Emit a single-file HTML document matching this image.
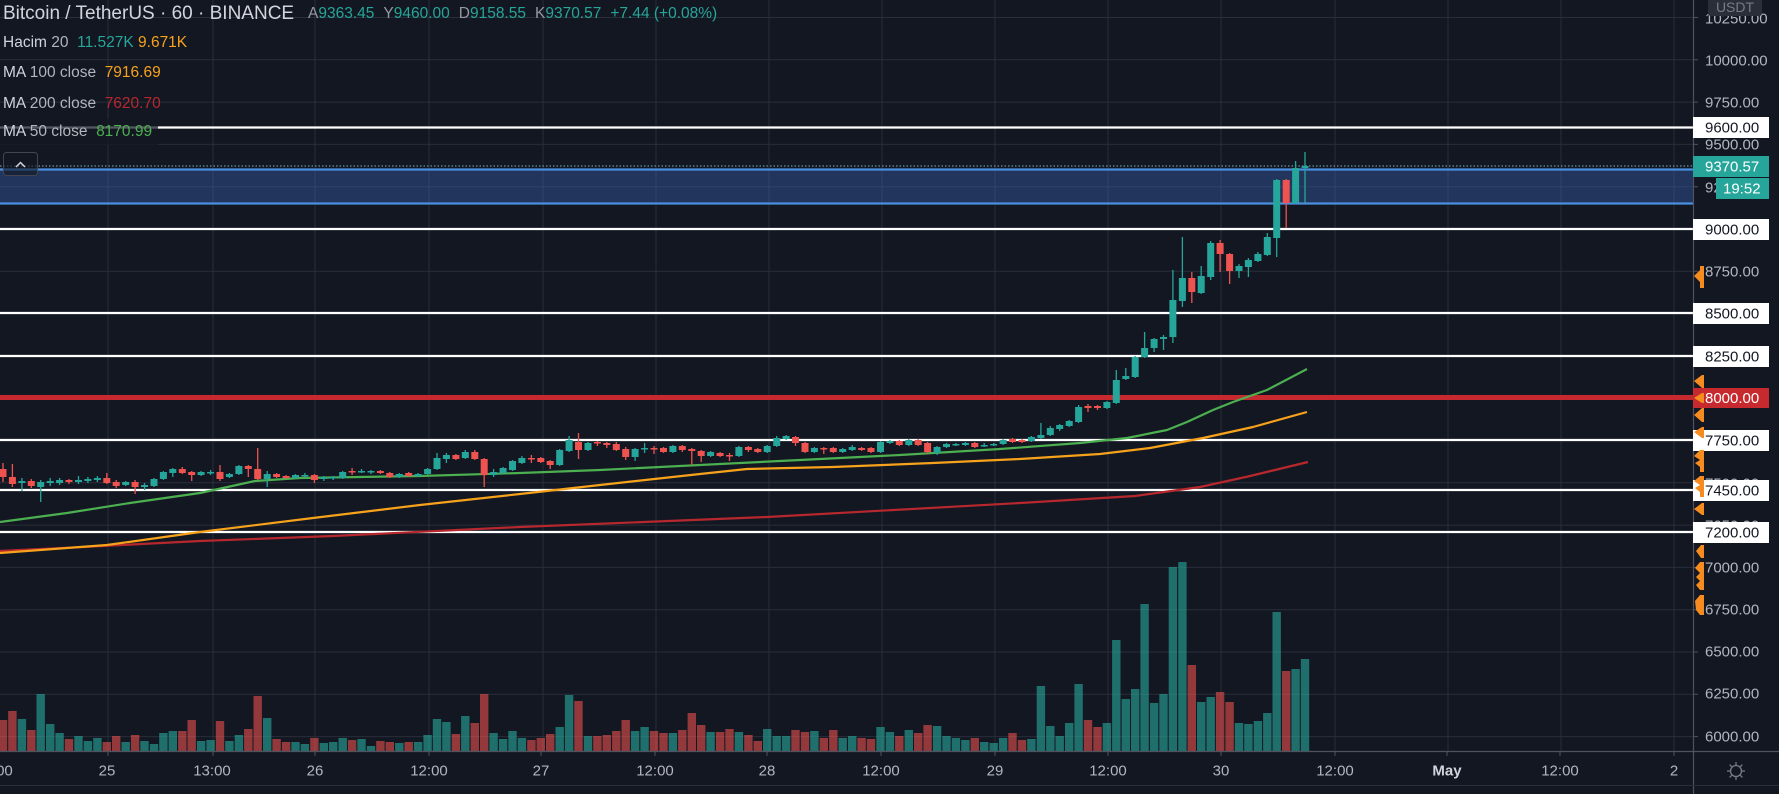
<!DOCTYPE html>
<html><head><meta charset="utf-8"><style>
html,body{margin:0;padding:0;background:#131722;}
#w{position:relative;width:1779px;height:794px;overflow:hidden;background:#131722;font-family:"Liberation Sans",sans-serif;}
svg{position:absolute;left:0;top:0;}
.row{position:absolute;left:0;height:26px;line-height:26px;white-space:nowrap;font-size:15.5px;color:#b2b5be;background:rgba(19,23,34,0.72);padding:0 6px 0 3px;}
.ttl{position:absolute;left:3px;top:2px;font-size:19px;color:#d1d4dc;line-height:24px;white-space:nowrap;}
.ohlc{position:absolute;left:308px;top:4px;font-size:15.5px;line-height:20px;color:#26a69a;white-space:nowrap;}
.ohlc span{margin-right:9px;}
.ohlc b{font-weight:normal;color:#9598a1;}
</style></head><body><div id="w">
<svg width="1779" height="794" viewBox="0 0 1779 794" xmlns="http://www.w3.org/2000/svg">
<rect width="1779" height="794" fill="#131722"/>
<g stroke="#2a2e39" stroke-width="1">
<path d="M0 17.5H1693M0 59.8H1693M0 102.1H1693M0 144.4H1693M0 186.7H1693M0 229H1693M0 271.3H1693M0 313.6H1693M0 355.9H1693M0 398.2H1693M0 440.5H1693M0 482.8H1693M0 525.1H1693M0 567.4H1693M0 609.7H1693M0 652H1693M0 694.3H1693M0 736.6H1693"/>
<path d="M108 0V751M213 0V751M315 0V751M429 0V751M543 0V751M656 0V751M769 0V751M882 0V751M995 0V751M1108 0V751M1221 0V751M1335 0V751M1448 0V751M1561 0V751M1674 0V751"/>
</g>
<path fill="#26a69a" fill-opacity="0.62" d="M17.7 719h8.4V751h-8.4zM36.5 694h8.4V751h-8.4zM46 724h8.4V751h-8.4zM55.4 733h8.4V751h-8.4zM74.3 736h8.4V751h-8.4zM83.7 741h8.4V751h-8.4zM93.2 738h8.4V751h-8.4zM121.5 742h8.4V751h-8.4zM140.3 741h8.4V751h-8.4zM149.8 744h8.4V751h-8.4zM159.2 733h8.4V751h-8.4zM168.6 731h8.4V751h-8.4zM196.9 741h8.4V751h-8.4zM206.4 740h8.4V751h-8.4zM225.2 741h8.4V751h-8.4zM234.7 735h8.4V751h-8.4zM263 718h8.4V751h-8.4zM291.3 742h8.4V751h-8.4zM300.7 744h8.4V751h-8.4zM319.6 743h8.4V751h-8.4zM329 742h8.4V751h-8.4zM338.5 738h8.4V751h-8.4zM357.3 739h8.4V751h-8.4zM366.8 746h8.4V751h-8.4zM395.1 743h8.4V751h-8.4zM413.9 742h8.4V751h-8.4zM423.4 735h8.4V751h-8.4zM432.8 719h8.4V751h-8.4zM442.2 722h8.4V751h-8.4zM461.1 716h8.4V751h-8.4zM489.4 733h8.4V751h-8.4zM498.9 739h8.4V751h-8.4zM508.3 731h8.4V751h-8.4zM517.7 738h8.4V751h-8.4zM555.5 727h8.4V751h-8.4zM564.9 695h8.4V751h-8.4zM583.8 736h8.4V751h-8.4zM630.9 731h8.4V751h-8.4zM640.4 727h8.4V751h-8.4zM668.7 733h8.4V751h-8.4zM706.4 732h8.4V751h-8.4zM734.7 732h8.4V751h-8.4zM763 729h8.4V751h-8.4zM772.5 736h8.4V751h-8.4zM781.9 736h8.4V751h-8.4zM810.2 731h8.4V751h-8.4zM838.5 738h8.4V751h-8.4zM848 736h8.4V751h-8.4zM876.3 727h8.4V751h-8.4zM885.7 732h8.4V751h-8.4zM904.6 730h8.4V751h-8.4zM932.9 726h8.4V751h-8.4zM942.3 736h8.4V751h-8.4zM951.7 738h8.4V751h-8.4zM961.2 740h8.4V751h-8.4zM980 742h8.4V751h-8.4zM989.5 743h8.4V751h-8.4zM998.9 738h8.4V751h-8.4zM1027.2 739h8.4V751h-8.4zM1036.7 686h8.4V751h-8.4zM1046.1 726h8.4V751h-8.4zM1055.5 736h8.4V751h-8.4zM1065 723h8.4V751h-8.4zM1074.4 684h8.4V751h-8.4zM1102.7 723h8.4V751h-8.4zM1112.1 640h8.4V751h-8.4zM1121.6 699h8.4V751h-8.4zM1131 689h8.4V751h-8.4zM1140.4 604h8.4V751h-8.4zM1149.9 703h8.4V751h-8.4zM1159.3 694h8.4V751h-8.4zM1168.7 567h8.4V751h-8.4zM1178.2 562h8.4V751h-8.4zM1197 702h8.4V751h-8.4zM1206.5 697h8.4V751h-8.4zM1234.8 723h8.4V751h-8.4zM1244.2 724h8.4V751h-8.4zM1253.7 721h8.4V751h-8.4zM1263.1 713h8.4V751h-8.4zM1272.5 612h8.4V751h-8.4zM1291.4 669h8.4V751h-8.4zM1300.8 659h8.4V751h-8.4z"/>
<path fill="#ef5350" fill-opacity="0.58" d="M-1.2 720h8.4V751h-8.4zM8.2 711h8.4V751h-8.4zM27.1 730h8.4V751h-8.4zM64.8 739h8.4V751h-8.4zM102.6 742h8.4V751h-8.4zM112 736h8.4V751h-8.4zM130.9 735h8.4V751h-8.4zM178.1 731h8.4V751h-8.4zM187.5 720h8.4V751h-8.4zM215.8 721h8.4V751h-8.4zM244.1 729h8.4V751h-8.4zM253.5 696h8.4V751h-8.4zM272.4 739h8.4V751h-8.4zM281.9 742h8.4V751h-8.4zM310.2 738h8.4V751h-8.4zM347.9 740h8.4V751h-8.4zM376.2 741h8.4V751h-8.4zM385.6 742h8.4V751h-8.4zM404.5 742h8.4V751h-8.4zM451.7 734h8.4V751h-8.4zM470.6 723h8.4V751h-8.4zM480 694h8.4V751h-8.4zM527.2 740h8.4V751h-8.4zM536.6 738h8.4V751h-8.4zM546 734h8.4V751h-8.4zM574.3 701h8.4V751h-8.4zM593.2 736h8.4V751h-8.4zM602.6 735h8.4V751h-8.4zM612.1 731h8.4V751h-8.4zM621.5 720h8.4V751h-8.4zM649.8 731h8.4V751h-8.4zM659.3 733h8.4V751h-8.4zM678.1 730h8.4V751h-8.4zM687.6 713h8.4V751h-8.4zM697 725h8.4V751h-8.4zM715.9 732h8.4V751h-8.4zM725.3 729h8.4V751h-8.4zM744.2 735h8.4V751h-8.4zM753.6 741h8.4V751h-8.4zM791.3 730h8.4V751h-8.4zM800.8 732h8.4V751h-8.4zM819.6 738h8.4V751h-8.4zM829.1 730h8.4V751h-8.4zM857.4 738h8.4V751h-8.4zM866.8 739h8.4V751h-8.4zM895.1 736h8.4V751h-8.4zM914 733h8.4V751h-8.4zM923.4 725h8.4V751h-8.4zM970.6 738h8.4V751h-8.4zM1008.3 733h8.4V751h-8.4zM1017.8 740h8.4V751h-8.4zM1083.8 720h8.4V751h-8.4zM1093.3 727h8.4V751h-8.4zM1187.6 665h8.4V751h-8.4zM1215.9 692h8.4V751h-8.4zM1225.4 702h8.4V751h-8.4zM1282 671h8.4V751h-8.4z"/>
<rect x="0" y="169" width="1693" height="35" fill="#3460b0" fill-opacity="0.42"/>
<path d="M0 169.5H1693M0 203.5H1693" stroke="#4a8fe0" stroke-width="2.2"/>
<path d="M0 166H1693" stroke="#7fb0c8" stroke-width="1" stroke-dasharray="1.5,2"/>
<path d="M0 127.5H1693M0 229H1693M0 313H1693M0 356H1693M0 440H1693M0 490H1693M0 532H1693" stroke="#ffffff" stroke-width="2.2"/>
<path d="M0 397.5H1693" stroke="#c62a2f" stroke-width="5"/>
<g fill="none" stroke-width="2.2" stroke-linejoin="round">
<path stroke="#b7282e" d="M0 551L83 547L200 541L333 536L520 527L767 517L1020 503L1135 496L1200 487L1248 476.5L1308 462"/>
<path stroke="#f7a21b" d="M0 553L107 545L200 532L313 518L420 505L520 494L600 485L700 474L747 469L833 467L933 463L1020 459L1100 454L1150 448L1203 438L1253 427L1307 412"/>
<path stroke="#4caf50" d="M0 522L67 513L130 503L200 493L255 481L300 478L420 476L520 473L600 470L700 465L800 460L900 455L1000 449L1080 443L1127 438L1167 430L1187 422L1213 410L1233 402L1267 390L1307 369"/>
</g>
<path stroke="#26a69a" stroke-width="1.3" fill="none" d="M21.9 478V491M40.7 480V502M50.2 478V486M59.6 478V485M78.5 476V484M87.9 477V483M97.4 476V482M125.7 481V486M144.5 483V490M154 478V487M163.4 471V480M172.8 468V477M201.1 471V476M210.6 470V475M229.4 473V478M238.9 465V475M267.2 471V487M295.5 474V479M304.9 473V478M323.8 476V481M333.2 476V480M342.7 471V479M361.5 469V473M371 470V474M399.3 473V478M418.1 473V477M427.6 468V475M437 453V470M446.4 453V463M465.3 450V459M493.6 469V477M503.1 467V474M512.5 460V471M521.9 456V464M559.7 449V466M569.1 436V452M588 442V451M635.1 448V461M644.6 443V453M672.9 445V453M710.6 451V457M738.9 446V457M767.2 445V453M776.7 436V447M786.1 435V440M814.4 447V453M842.7 448V453M852.2 445V451M880.5 441V453M889.9 440V444M908.8 439V446M937.1 446V455M946.5 443V448M955.9 443V446M965.4 442V446M984.2 443V447M993.7 443V446M1003.1 439V445M1031.4 436V442M1040.9 423V439M1050.3 426V436M1059.7 424V431M1069.2 420V427M1078.6 405V423M1106.9 401V409M1116.3 370V404M1125.8 368V380M1135.2 356V378M1144.6 332V358M1154.1 338V352M1163.5 335V350M1172.9 270V343M1182.4 237V307M1201.2 266V294M1210.7 241V280M1239 264V278M1248.4 258V277M1257.9 252V262M1267.3 233V256M1276.7 179V257M1295.6 161V204M1305 152V203"/>
<path stroke="#ef5350" stroke-width="1.3" fill="none" d="M3 463V482M12.4 464V487M31.3 479V488M69 479V484M106.8 473V484M116.2 480V488M135.1 480V494M182.3 467V474M191.7 471V481M220 465V481M248.3 465V477M257.7 448V480M276.6 473V478M286.1 475V479M314.4 474V483M352.1 468V475M380.4 470V474M389.8 472V478M408.7 472V477M455.9 454V460M474.8 450V460M484.2 458V487M531.4 455V463M540.8 457V463M550.2 460V469M578.5 433V459M597.4 441V446M606.8 442V448M616.3 442V451M625.7 447V460M654 446V454M663.5 447V453M682.3 445V452M691.8 448V465M701.2 450V462M720.1 452V457M729.5 453V461M748.4 446V452M757.8 448V453M795.5 436V446M805 442V453M823.8 447V454M833.3 447V453M861.6 447V451M871 447V453M899.3 440V446M918.2 439V446M927.6 442V454M974.8 442V448M1012.5 438V443M1022 439V443M1088 404V412M1097.5 405V410M1191.8 272V303M1220.1 240V272M1229.6 253V284M1286.2 179V228"/>
<path fill="#26a69a" d="M18.4 481h7v2h-7zM37.2 482h7v5h-7zM46.7 481h7v2h-7zM56.1 480h7v3h-7zM75 480h7v2h-7zM84.4 479h7v2h-7zM93.9 478h7v2h-7zM122.2 482h7v3h-7zM141 485h7v2h-7zM150.5 479h7v7h-7zM159.9 472h7v7h-7zM169.3 469h7v4h-7zM197.6 472h7v3h-7zM207.1 472h7v1.5h-7zM225.9 474h7v3h-7zM235.4 466h7v8h-7zM263.7 474h7v5h-7zM292 475h7v3h-7zM301.4 475h7v1.5h-7zM320.3 477h7v2h-7zM329.7 477h7v1.5h-7zM339.2 472h7v6h-7zM358 471h7v1.5h-7zM367.5 471h7v1.5h-7zM395.8 474h7v3h-7zM414.6 474h7v2h-7zM424.1 469h7v5h-7zM433.5 458h7v11h-7zM442.9 455h7v4h-7zM461.8 452h7v6h-7zM490.1 472h7v3h-7zM499.6 468h7v5h-7zM509 461h7v9h-7zM518.4 458h7v5h-7zM556.2 450h7v15h-7zM565.6 440h7v11h-7zM584.5 443h7v7h-7zM631.6 449h7v8h-7zM641.1 448h7v1.5h-7zM669.4 446h7v6h-7zM707.1 452h7v4h-7zM735.4 447h7v9h-7zM763.7 446h7v6h-7zM773.2 438h7v8h-7zM782.6 436h7v3h-7zM810.9 448h7v4h-7zM839.2 449h7v3h-7zM848.7 447h7v3h-7zM877 442h7v10h-7zM886.4 441h7v2h-7zM905.3 440h7v5h-7zM933.6 447h7v6h-7zM943 444h7v3h-7zM952.4 444h7v1.5h-7zM961.9 443h7v2h-7zM980.7 445h7v1.5h-7zM990.2 444h7v1.5h-7zM999.6 440h7v4h-7zM1027.9 437h7v4h-7zM1037.4 435h7v3h-7zM1046.8 428h7v7h-7zM1056.2 425h7v4h-7zM1065.7 421h7v5h-7zM1075.1 407h7v15h-7zM1103.4 402h7v6h-7zM1112.8 380h7v23h-7zM1122.3 376h7v3h-7zM1131.7 357h7v20h-7zM1141.1 348h7v9h-7zM1150.6 339h7v9h-7zM1160 337h7v2h-7zM1169.4 300h7v37h-7zM1178.9 278h7v23h-7zM1197.7 276h7v17h-7zM1207.2 243h7v34h-7zM1235.5 266h7v5h-7zM1244.9 260h7v7h-7zM1254.4 254h7v7h-7zM1263.8 237h7v18h-7zM1273.2 180h7v58h-7zM1292.1 168h7v35h-7zM1301.5 166h7v2h-7z"/>
<path fill="#ef5350" d="M-0.5 469h7v8h-7zM8.9 477h7v7h-7zM27.8 481h7v5h-7zM65.5 480h7v2h-7zM103.3 478h7v5h-7zM112.7 482h7v4h-7zM131.6 482h7v5h-7zM178.8 469h7v4h-7zM188.2 472h7v3h-7zM216.5 472h7v7h-7zM244.8 466h7v3h-7zM254.2 469h7v10h-7zM273.1 474h7v3h-7zM282.6 476h7v2h-7zM310.9 475h7v5h-7zM348.6 471h7v1.5h-7zM376.9 471h7v2h-7zM386.3 473h7v4h-7zM405.2 473h7v3h-7zM452.4 455h7v4h-7zM471.3 452h7v7h-7zM480.7 459h7v16h-7zM527.9 458h7v1.5h-7zM537.3 458h7v4h-7zM546.7 461h7v4h-7zM575 442h7v8h-7zM593.9 442h7v1.5h-7zM603.3 443h7v2h-7zM612.8 444h7v6h-7zM622.2 449h7v8h-7zM650.5 448h7v1.5h-7zM660 448h7v4h-7zM678.8 446h7v4h-7zM688.3 449h7v2h-7zM697.7 451h7v5h-7zM716.6 453h7v3h-7zM726 455h7v1.5h-7zM744.9 447h7v3h-7zM754.3 449h7v3h-7zM792 437h7v6h-7zM801.5 443h7v9h-7zM820.3 448h7v1.5h-7zM829.8 448h7v4h-7zM858.1 448h7v2h-7zM867.5 448h7v4h-7zM895.8 441h7v4h-7zM914.7 440h7v5h-7zM924.1 443h7v9h-7zM971.3 443h7v4h-7zM1009 439h7v3h-7zM1018.5 440h7v2h-7zM1084.5 406h7v2h-7zM1094 406h7v2h-7zM1188.3 278h7v14h-7zM1216.6 243h7v11h-7zM1226.1 254h7v17h-7zM1282.7 180h7v23h-7z"/>
<rect x="1693" y="0" width="86" height="794" fill="#131722"/>
<rect x="0" y="751" width="1779" height="43" fill="#131722"/>
<path d="M1693.5 0V794" stroke="#50535e" stroke-width="1.2"/>
<path d="M0 751.5H1779" stroke="#50535e" stroke-width="1.2"/>
<path d="M0 785.5H1779" stroke="#2a2e39" stroke-width="1"/>
<g stroke="#50535e" stroke-width="1">
<path d="M1693 17.5h5M1693 59.8h5M1693 102.1h5M1693 144.4h5M1693 186.7h5M1693 271.3h5M1693 567.4h5M1693 609.7h5M1693 652h5M1693 694.3h5M1693 736.6h5"/>
<path d="M108 751v5M213 751v5M315 751v5M429 751v5M541 751v5M655 751v5M767 751v5M881 751v5M995 751v5M1108 751v5M1221 751v5M1335 751v5M1447 751v5M1560 751v5M1674 751v5"/>
</g>
<g font-family="Liberation Sans, sans-serif" font-size="15" fill="#b2b5be" dominant-baseline="central">
<text x="1705" y="19">10250.00</text>
<text x="1705" y="61">10000.00</text>
<text x="1705" y="103">9750.00</text>
<text x="1705" y="145">9500.00</text>
<text x="1705" y="188">9250.00</text>
<text x="1705" y="272">8750.00</text>
<text x="1705" y="484">7500.00</text>
<text x="1705" y="526">7250.00</text>
<text x="1705" y="568">7000.00</text>
<text x="1705" y="610">6750.00</text>
<text x="1705" y="652">6500.00</text>
<text x="1705" y="694">6250.00</text>
<text x="1705" y="737">6000.00</text>
</g>
<g fill="#ffffff">
<rect x="1693" y="117" width="76" height="21"/>
<rect x="1693" y="219" width="76" height="21"/>
<rect x="1693" y="303" width="76" height="21"/>
<rect x="1693" y="346" width="76" height="21"/>
<rect x="1693" y="430" width="76" height="21"/>
<rect x="1693" y="480" width="76" height="21"/>
<rect x="1693" y="522" width="76" height="21"/>
</g>
<rect x="1693" y="388" width="76" height="20" fill="#c62a2f"/>
<rect x="1693" y="156" width="76" height="21" fill="#26a69a"/>
<rect x="1716" y="178" width="53" height="21" fill="#26a69a"/>
<g font-family="Liberation Sans, sans-serif" font-size="15" fill="#131722" dominant-baseline="central">
<text x="1705" y="128">9600.00</text>
<text x="1705" y="230">9000.00</text>
<text x="1705" y="314">8500.00</text>
<text x="1705" y="357">8250.00</text>
<text x="1705" y="441">7750.00</text>
<text x="1705" y="491">7450.00</text>
<text x="1705" y="533">7200.00</text>
</g>
<g font-family="Liberation Sans, sans-serif" font-size="15" fill="#ffffff" dominant-baseline="central">
<text x="1705" y="398.5">8000.00</text>
<text x="1705" y="167">9370.57</text>
<text x="1723" y="189">19:52</text>
</g>
<g fill="#f68b1f">
<path d="M1694 276l6-6v-4h4v22h-4v-6z"/>
<path d="M1694 381l8-6h2v13h-2z"/>
<path d="M1694 398l8-5h2v10h-2z"/>
<path d="M1694 415l8-7h2v14h-2z"/>
<path d="M1694 432l8-5h2v11h-2z"/>
<path d="M1694 456l6-6h4v22h-4v-5l-5-4 5-3z"/>
<path d="M1694 481l6-5h4v21h-4v-5l-5-4 5-3z"/>
<path d="M1694 509l8-6h2v12h-2z"/>
<path d="M1696 551l5-6h3v13h-3z"/>
<path d="M1695 568l5-6h4v28h-4l-4-5 4-4-4-4 4-4z"/>
<path d="M1695 601l5-6h4v20h-4l-4-5z"/>
</g>
<g font-family="Liberation Sans, sans-serif" font-size="15" fill="#b2b5be" text-anchor="middle" dominant-baseline="central">
<text x="-6" y="771">12:00</text>
<text x="107" y="771">25</text>
<text x="212" y="771">13:00</text>
<text x="315" y="771">26</text>
<text x="429" y="771">12:00</text>
<text x="541" y="771">27</text>
<text x="655" y="771">12:00</text>
<text x="767" y="771">28</text>
<text x="881" y="771">12:00</text>
<text x="995" y="771">29</text>
<text x="1108" y="771">12:00</text>
<text x="1221" y="771">30</text>
<text x="1335" y="771">12:00</text>
<text x="1447" y="771" fill="#d1d4dc" font-weight="bold">May</text>
<text x="1560" y="771">12:00</text>
<text x="1674" y="771">2</text>
</g>
<g stroke="#787b86" stroke-width="1.3" fill="none">
<circle cx="1736" cy="771" r="5.5"/>
<path d="M1736 762v3M1736 777v3M1727 771h3M1742 771h3M1729.6 764.6l2.1 2.1M1740.3 775.3l2.1 2.1M1742.4 764.6l-2.1 2.1M1731.7 775.3l-2.1 2.1"/>
</g>
<rect x="1708" y="-3" width="54" height="19" rx="3" fill="#2a2e39"/>
<text x="1735" y="7" font-family="Liberation Sans, sans-serif" font-size="14" fill="#787b86" text-anchor="middle" dominant-baseline="central">USDT</text>
<rect x="3.5" y="152.5" width="34" height="23" rx="3" fill="#131722" fill-opacity="0.6" stroke="#434651"/>
<path d="M16 167l4.5-4.5 4.5 4.5" stroke="#d1d4dc" stroke-width="1.5" fill="none"/>
</svg>
<div class="ttl">Bitcoin / TetherUS · 60 · BINANCE</div>
<div class="ohlc"><span><b>A</b>9363.45</span><span><b>Y</b>9460.00</span><span><b>D</b>9158.55</span><span><b>K</b>9370.57</span><span>+7.44 (+0.08%)</span></div>
<div class="row" style="top:30px;background:transparent"><span style="color:#d1d4dc">Hacim</span> 20 &nbsp;<span style="color:#26a69a">11.527K</span> <span style="color:#f7a21b">9.671K</span></div>
<div class="row" style="top:60px;background:transparent"><span style="color:#d1d4dc">MA</span> 100 close &nbsp;<span style="color:#f7a21b">7916.69</span></div>
<div class="row" style="top:91px;background:transparent"><span style="color:#d1d4dc">MA</span> 200 close &nbsp;<span style="color:#b7282e">7620.70</span></div>
<div class="row" style="top:119px"><span style="color:#d1d4dc">MA</span> 50 close &nbsp;<span style="color:#4caf50">8170.99</span></div>
</div></body></html>
